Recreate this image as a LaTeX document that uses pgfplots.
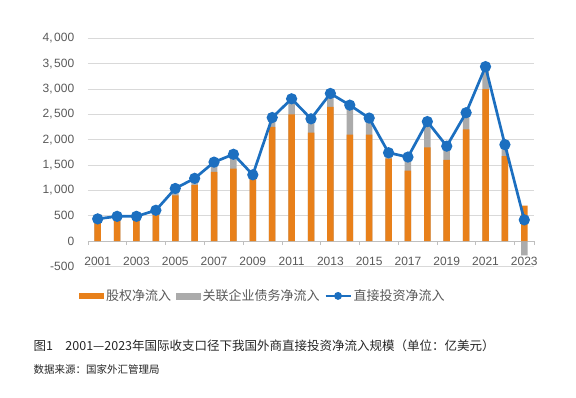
\documentclass[border=0pt]{standalone}
\usepackage{fontspec}
\setmainfont{Liberation Sans}
\newfontfamily\cjk{Noto Sans CJK SC}
\usepackage{pgfplots}
\usepackage{pgfplotstable}
\pgfplotsset{compat=1.18}
\definecolor{orangeb}{HTML}{E8801A}
\definecolor{grayb}{HTML}{ABABAB}
\definecolor{blueline}{HTML}{1C6FC0}
\definecolor{gridc}{HTML}{D9D9D9}
\definecolor{axisc}{HTML}{BFBFBF}
\definecolor{txt}{HTML}{595959}

\pgfplotstableread{
idx total equity graybar
0  440  380  440
1  490  420  490
2  490  420  490
3  610  545  610
4  1040 905  1040
5  1240 1105 1240
6  1560 1370 1560
7  1715 1430 1715
8  1310 1230 1310
9  2440 2255 2440
10 2810 2505 2810
11 2415 2140 2415
12 2915 2650 2915
13 2685 2105 2685
14 2430 2105 2430
15 1745 1630 1745
16 1660 1390 1660
17 2360 1850 2360
18 1875 1605 1875
19 2535 2205 2535
20 3445 3000 3445
21 1905 1680 1905
22 420  700  -280
}\data

\begin{document}
\begin{tikzpicture}
\begin{axis}[
  at={(88pt,130.5pt)}, anchor=south west,
  scale only axis, width=446pt, height=228pt,
  xmin=-0.5, xmax=22.5, ymin=-500, ymax=4000,
  enlargelimits=false,
  axis x line=middle, axis y line=left,
  hide obscured x ticks=false, hide obscured y ticks=false,
  x axis line style={draw=axisc, line width=1pt, -},
  y axis line style={draw=none},
  xtick={0,2,...,22},
  xticklabels={2001,2003,2005,2007,2009,2011,2013,2015,2017,2019,2021,2023},
  minor xtick={-0.5,1.5,...,21.5,22.5},
  major x tick style={draw=none},
  minor x tick style={draw=axisc, line width=0.8pt},
  minor tick length=4pt,
  tick align=outside,
  ytick={-500,0,...,4000},
  ytick style={draw=none},
  ymajorgrids,
  major grid style={draw=gridc, line width=1pt},
  /pgf/number format/assume math mode=true,
  /pgf/number format/1000 sep={,\hspace{1.5pt}},
  ticklabel style={font=\fontsize{12}{12}\selectfont, text=txt},
  yticklabel style={xshift=-6pt},
  xticklabel style={yshift=-8pt},
  legend style={at={(0.392,-0.129)}, anchor=center, legend columns=3,
    draw=none, fill=none, font=\cjk\fontsize{13}{13}\selectfont, text=txt,
    /tikz/every even column/.append style={column sep=3pt}},
  legend cell align=left,
]
\addplot[ybar, bar width=6.5pt, bar shift=0pt, fill=grayb, draw=none,
  forget plot] table[x=idx,y=graybar]{\data};
\addplot[ybar, bar width=6.5pt, bar shift=0pt, fill=orangeb, draw=none,
  legend image code/.code={\fill[orangeb] (0pt,-3pt) rectangle (25pt,3pt);}]
  table[x=idx,y=equity]{\data};
\addlegendentry{股权净流入}
\addlegendimage{legend image code/.code={\fill[grayb] (0pt,-3pt) rectangle (24pt,3pt);}}
\addlegendentry{关联企业债务净流入}
\addplot[blueline, line width=2.7pt, mark=*, mark size=4.2pt,
  mark options={fill=blueline, draw=blueline},
  legend image code/.code={\draw[blueline, line width=2pt] (0pt,0pt) -- (25pt,0pt); \fill[blueline] (12.5pt,0pt) circle (2.5pt);}]
  table[x=idx,y=total]{\data};
\addlegendentry{直接投资净流入}
\end{axis}
\node[anchor=west, font=\cjk\fontsize{12.5}{12.5}\selectfont, text=black!85] at (30pt,51pt)
  {图1\hspace{1em}2001—2023年国际收支口径下我国外商直接投资净流入规模（单位：亿美元）};
\node[anchor=west, font=\cjk\fontsize{10.5}{10.5}\selectfont, text=black!85] at (30pt,28pt)
  {数据来源：国家外汇管理局};
\pgfresetboundingbox
\path[use as bounding box] (0pt,0pt) rectangle (576pt,397pt);
\end{tikzpicture}
\end{document}
